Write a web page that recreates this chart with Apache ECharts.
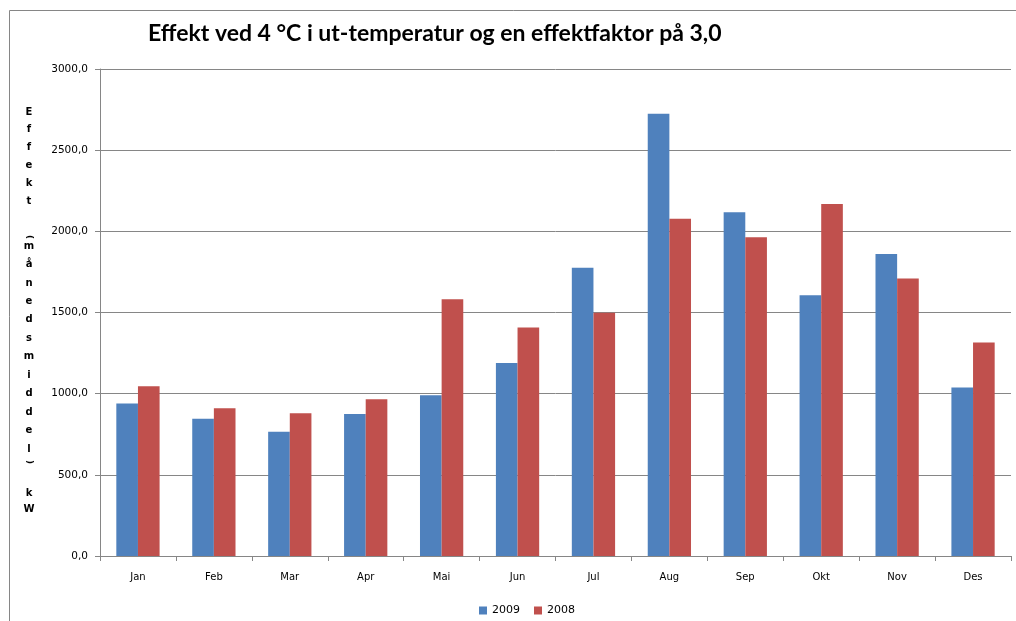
<!DOCTYPE html>
<html>
<head>
<meta charset="utf-8">
<script src="https://cdn.jsdelivr.net/npm/echarts@6/dist/echarts.min.js"></script>
<style>
  html, body { margin: 0; padding: 0; background: #fff; }
  #chart { width: 1016px; height: 621px; }
</style>
</head>
<body>
<div id="chart"></div>
<script>
const months = ['Jan', 'Feb', 'Mar', 'Apr', 'Mai', 'Jun', 'Jul', 'Aug', 'Sep', 'Okt', 'Nov', 'Des']
const values2009 = [940, 845, 766, 875, 991, 1189, 1775, 2724, 2118, 1606, 1860, 1038]
const values2008 = [1045, 910, 879, 965, 1582, 1407, 1498, 2078, 1963, 2168, 1709, 1315]
const yTicks = [0, 500, 1000, 1500, 2000, 2500, 3000]

const chartTitle = 'Effekt ved 4 °C i ut-temperatur og en effektfaktor på 3,0'

// vertical y-axis name, one glyph per line (brackets are drawn rotated below)
const nameLines = [
  '{a|E}', '{a|f}', '{a|f}', '{a|e}', '{a|k}', '{a|t}',
  '{s| }',
  '{b|m}', '{b|å}', '{b|n}', '{b|e}', '{b|d}', '{b|s}', '{b|m}', '{b|i}', '{b|d}', '{b|d}', '{b|e}', '{b|l}',
  '{g| }',
  '{c|k}', '{c|W}'
]

const axisGray = '#868686'
const nameFont = { fontFamily: 'DejaVu Sans', fontWeight: 'bold', fontSize: 10, width: 12, align: 'center' }
const chart = echarts.init(document.getElementById('chart'))

const options = {
  animation: false,
  color: ['#4F81BD', '#C0504D'],
  title: {
    text: chartTitle,
    left: 143,
    top: 17,
    textStyle: {
      fontFamily: 'Lato',
      fontWeight: 'bold',
      fontSize: 23,
      color: '#000'
    }
  },
  legend: {
    data: ['2009', '2008'],
    left: 474,
    top: 600,
    icon: 'rect',
    itemWidth: 8,
    itemHeight: 8,
    itemGap: 14,
    textStyle: {
      fontFamily: 'DejaVu Sans',
      fontSize: 11,
      color: '#000'
    }
  },
  grid: {
    left: 100,
    right: 5,
    top: 69,
    bottom: 65
  },
  xAxis: [{
    type: 'category',
    data: months,
    axisLine: { lineStyle: { color: axisGray } },
    axisTick: { show: true, length: 5, lineStyle: { color: axisGray } },
    axisLabel: {
      interval: 0,
      margin: 16,
      fontFamily: 'DejaVu Sans',
      fontSize: 10,
      color: '#000'
    }
  }],
  yAxis: [{
    type: 'value',
    min: 0,
    max: 3000,
    interval: 500,
    axisLine: { show: true, lineStyle: { color: axisGray } },
    axisTick: { show: true, length: 5, lineStyle: { color: axisGray } },
    splitLine: { lineStyle: { color: axisGray, width: 1 } },
    axisLabel: {
      margin: 12,
      fontFamily: 'DejaVu Sans',
      fontSize: 10.5,
      color: '#000',
      formatter(val) {
        return yTicks.indexOf(val) >= 0 ? val.toFixed(1).replace('.', ',') : ''
      }
    }
  }],
  series: [{
    name: '2009',
    type: 'bar',
    barGap: '0%',
    barCategoryGap: '43%',
    data: values2009
  }, {
    name: '2008',
    type: 'bar',
    barGap: '0%',
    barCategoryGap: '43%',
    data: values2008
  }],
  graphic: [{
    type: 'rect',
    shape: { x: 9.5, y: 10.5, width: 1030, height: 640 },
    style: { fill: null, stroke: axisGray, lineWidth: 1 },
    silent: true
  }, {
    type: 'text',
    left: 23,
    top: 107,
    style: {
      text: nameLines.join('\n'),
      fill: '#000',
      align: 'center',
      rich: {
        a: Object.assign({ lineHeight: 17.8 }, nameFont),
        s: { fontSize: 10, lineHeight: 26.9 },
        b: Object.assign({ lineHeight: 18.45 }, nameFont),
        g: { fontSize: 10, lineHeight: 26.8 },
        c: Object.assign({ lineHeight: 16 }, nameFont)
      }
    },
    silent: true
  }, {
    type: 'text',
    x: 29,
    y: 237,
    rotation: -Math.PI / 2,
    style: {
      text: '(',
      fill: '#000',
      align: 'center',
      verticalAlign: 'middle',
      fontFamily: 'DejaVu Sans',
      fontWeight: 'bold',
      fontSize: 9
    },
    silent: true
  }, {
    type: 'text',
    x: 29,
    y: 462,
    rotation: -Math.PI / 2,
    style: {
      text: ')',
      fill: '#000',
      align: 'center',
      verticalAlign: 'middle',
      fontFamily: 'DejaVu Sans',
      fontWeight: 'bold',
      fontSize: 9
    },
    silent: true
  }]
}

chart.setOption(options)
window.addEventListener('resize', chart.resize)
</script>
</body>
</html>
